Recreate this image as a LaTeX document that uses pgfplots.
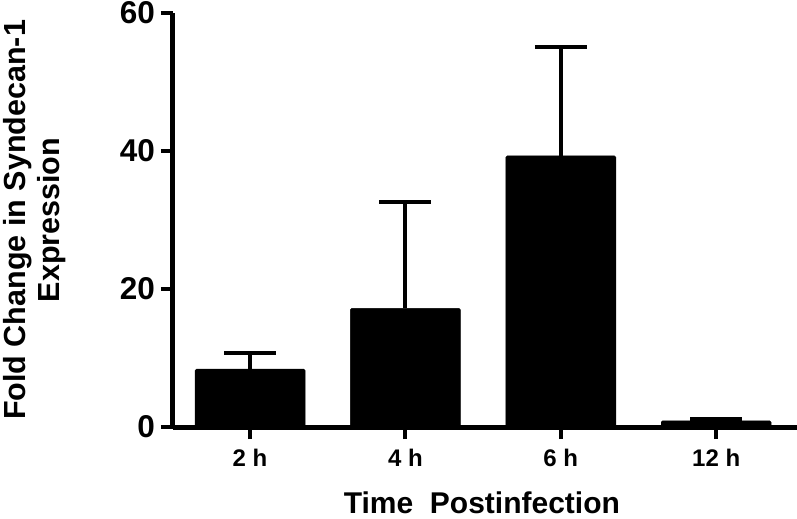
\documentclass[border=0pt]{standalone}
\usepackage{pgfplots}
\pgfplotsset{compat=1.18}
\usepackage{fontspec}
\setmainfont{Liberation Sans}
\pgfplotstableread{
x y e
1 8.4 2.3
2 17.2 15.4
3 39.3 15.8
4 0.9 0.2
}\datatable
\begin{document}
\begin{tikzpicture}
\begin{axis}[
  scale only axis,
  width=624bp, height=414bp,
  xmin=0.504, xmax=4.52, ymin=0, ymax=60,
  axis lines=left,
  axis line style={-, line width=5bp, black},
  xtick={1,2,3,4}, xticklabels={2 h,4 h,6 h,12 h},
  ytick={0,20,40,60},
  tick style={line width=4bp, black},
  major tick length=12bp,
  tick align=outside,
  /pgf/number format/assume math mode=true,
  yticklabel style={font=\fontsize{31.5bp}{31.5bp}\selectfont\bfseries, inner sep=0pt, anchor=east, xshift=-6bp},
  xticklabel style={font=\fontsize{24bp}{24bp}\selectfont\bfseries, inner sep=0pt, anchor=base, yshift=-27bp},
  xlabel={Time\ \ Postinfection},
  xlabel style={font=\fontsize{30bp}{30bp}\selectfont\bfseries, inner sep=0pt, anchor=base, at={(axis description cs:0.495,-0.210)}},
  ylabel={Fold Change in Syndecan-1\\Expression},
  ylabel style={font=\fontsize{30.5bp}{34bp}\selectfont\bfseries, align=center, inner sep=0pt, anchor=center, at={(axis description cs:-0.222,0.5)}},
  clip=false,
]
\addplot[ybar, bar width=110bp, fill=black, draw=black, rounded corners=1.5bp,
  error bars/.cd, y dir=plus, y explicit,
  error bar style={line width=4bp, black, sharp corners},
  error mark options={rotate=90, line width=4bp, black, mark size=26bp}]
  table[x=x, y=y, y error=e] {\datatable};
\end{axis}
\path (current axis.south west) ++(-173bp,-92bp) coordinate (BBA);
\path (current axis.north east) ++(0bp,13bp) coordinate (BBB);
\pgfresetboundingbox
\path[use as bounding box] (BBA) rectangle (BBB);
\end{tikzpicture}
\end{document}
